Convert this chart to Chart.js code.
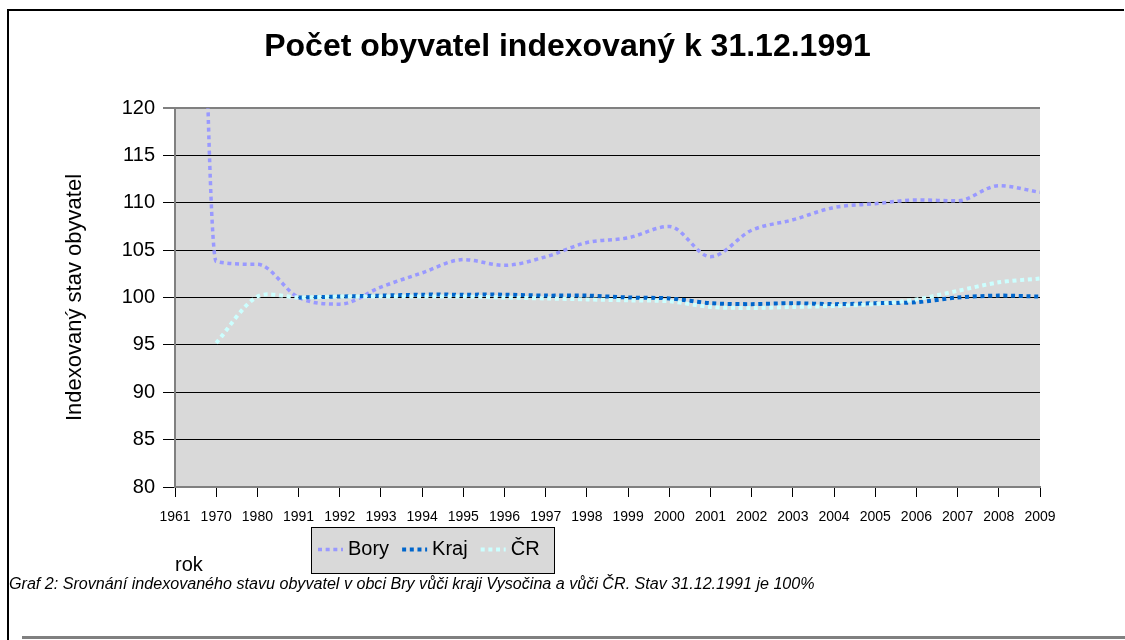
<!DOCTYPE html>
<html><head><meta charset="utf-8">
<script src="https://cdn.jsdelivr.net/npm/chart.js@4.4.1/dist/chart.umd.min.js"></script>
<style>html,body{margin:0;padding:0;background:#fff;}canvas{display:block;}</style>
</head><body>
<canvas id="c" width="1125" height="640"></canvas>
<script>
// ---- data ----
const years = ['1961','1970','1980','1991','1992','1993','1994','1995','1996','1997','1998','1999','2000','2001','2002','2003','2004','2005','2006','2007','2008','2009'];
const bory = [330, 103.8, 103.5, 100.0, 99.3, 101.1, 102.6, 104.0, 103.4, 104.3, 105.8, 106.3, 107.5, 104.3, 107.1, 108.2, 109.5, 109.9, 110.3, 110.2, 111.8, 111.1];
const kraj = [null, null, null, 100.0, 100.1, 100.2, 100.3, 100.3, 100.3, 100.2, 100.2, 100.0, 99.9, 99.4, 99.3, 99.4, 99.3, 99.4, 99.5, 100.0, 100.2, 100.1];
const cr   = [null, 95.2, 100.1, 100.0, 100.1, 100.1, 100.1, 100.1, 100.0, 99.9, 99.8, 99.7, 99.6, 99.0, 98.9, 99.0, 99.1, 99.3, 99.8, 100.7, 101.6, 102.0];
const yTicks = [80, 85, 90, 95, 100, 105, 110, 115, 120];
const seriesNames = ['Bory', 'Kraj', 'ČR'];
const chartTitle = 'Počet obyvatel indexovaný k 31.12.1991';
const yTitle = 'Indexovaný stav obyvatel';
const xTitle = 'rok';
const caption = 'Graf 2: Srovnání indexovaného stavu obyvatel v obci Bry vůči kraji Vysočina a vůči ČR. Stav 31.12.1991 je 100%';

// ---- styles ----
const FONT = "'Liberation Sans', Arial, Helvetica, sans-serif";
const colors = ['#9999ff', '#0066cc', '#ccffff'];
const widths = [3.5, 4, 4];
const modes = ['monotone', 'default', 'default'];
const DASH = [4, 3.67];

Chart.defaults.font.family = FONT;
Chart.defaults.color = '#000';

const bgPlugin = {
  id: 'plotBg',
  beforeDraw(chart) {
    const {ctx, chartArea: a} = chart;
    ctx.save();
    ctx.fillStyle = '#d9d9d9';
    ctx.fillRect(a.left, a.top, a.right - a.left, a.bottom - a.top);
    ctx.restore();
  }
};

const decorPlugin = {
  id: 'decor',
  afterDraw(chart) {
    const ctx = chart.ctx;
    ctx.save();
    // frame
    ctx.strokeStyle = '#000';
    ctx.lineWidth = 2;
    ctx.beginPath();
    ctx.moveTo(8, 640); ctx.lineTo(8, 10); ctx.lineTo(1124, 10);
    ctx.stroke();
    ctx.strokeStyle = '#808080';
    ctx.lineWidth = 3;
    ctx.beginPath();
    ctx.moveTo(22, 637.5); ctx.lineTo(1125, 637.5);
    ctx.stroke();

    // legend
    const lx = 311, ly = 527, lw = 243, lh = 46, cy = 549.5;
    ctx.fillStyle = '#d9d9d9';
    ctx.fillRect(lx, ly, lw, lh);
    ctx.strokeStyle = '#000';
    ctx.lineWidth = 1;
    ctx.strokeRect(lx + 0.5, ly + 0.5, lw, lh);
    ctx.font = '20px ' + FONT;
    ctx.textBaseline = 'middle';
    ctx.textAlign = 'left';
    let x = 318;
    chart.data.datasets.forEach((ds) => {
      ctx.strokeStyle = ds.borderColor;
      ctx.lineWidth = ds.borderWidth;
      ctx.setLineDash(ds.borderDash);
      ctx.lineCap = 'butt';
      ctx.beginPath();
      ctx.moveTo(x, cy); ctx.lineTo(x + 25, cy);
      ctx.stroke();
      ctx.setLineDash([]);
      ctx.fillStyle = '#000';
      ctx.fillText(ds.label, x + 30, cy);
      x += 30 + ctx.measureText(ds.label).width + 13;
    });

    // caption
    ctx.font = 'italic 100px ' + FONT;
    const w = ctx.measureText(caption).width;
    const size = 100 * 806 / w;
    ctx.font = 'italic ' + size.toFixed(2) + 'px ' + FONT;
    ctx.fillStyle = '#000';
    ctx.textBaseline = 'middle';
    ctx.fillText(caption, 9, 585);
    ctx.restore();
  }
};

function mkDs(i, data) {
  return {
    label: seriesNames[i],
    data: data,
    borderColor: colors[i],
    backgroundColor: colors[i],
    borderWidth: widths[i],
    borderDash: DASH,
    borderCapStyle: 'butt',
    borderJoinStyle: 'round',
    pointRadius: 0,
    pointHoverRadius: 0,
    fill: false,
    tension: 0.3,
    cubicInterpolationMode: modes[i],
    capBezierPoints: false,
    spanGaps: false,
    clip: 0,
    order: 3 - i
  };
}

new Chart(document.getElementById('c'), {
  type: 'line',
  data: {
    labels: years,
    datasets: [mkDs(0, bory), mkDs(1, kraj), mkDs(2, cr)]
  },
  options: {
    responsive: false,
    animation: false,
    devicePixelRatio: 1,
    events: [],
    layout: { padding: { left: 10, right: 0, top: 0, bottom: 0 } },
    plugins: {
      legend: { display: false },
      tooltip: { enabled: false },
      title: {
        display: true,
        text: chartTitle,
        color: '#000',
        font: { size: 32, weight: 'bold', family: FONT, lineHeight: 1.2 },
        padding: { top: 28, bottom: 41.6 }
      }
    },
    scales: {
      x: {
        type: 'category',
        offset: false,
        grid: { display: true, drawOnChartArea: false, drawTicks: true, tickLength: 10, color: '#000', lineWidth: 1 },
        border: { display: true, color: '#808080', width: 2 },
        ticks: { autoSkip: false, maxRotation: 0, minRotation: 0, padding: 12, color: '#000', font: { size: 14, family: FONT } },
        title: { display: true, text: xTitle, align: 'start', color: '#000', font: { size: 20, family: FONT, lineHeight: 1.2 }, padding: { top: 0, bottom: 63 } },
        afterFit(s) { s.height = 153; }
      },
      y: {
        position: 'left',
        min: yTicks[0],
        max: yTicks[yTicks.length - 1],
        ticks: { stepSize: yTicks[1] - yTicks[0], padding: 8, color: '#000', font: { size: 20, family: FONT } },
        grid: {
          drawTicks: true, tickLength: 12,
          color: (c) => (c.tick && c.tick.value === yTicks[yTicks.length - 1]) ? '#808080' : '#000',
          lineWidth: (c) => (c.tick && c.tick.value === yTicks[yTicks.length - 1]) ? 2 : 1
        },
        border: { display: true, color: '#808080', width: 2 },
        title: { display: true, text: yTitle, color: '#000', font: { size: 22, family: FONT, lineHeight: 1.2 }, padding: { top: 52, bottom: 0 } },
        afterFit(s) { s.width = 165; }
      },
      y2: {
        position: 'right',
        display: true,
        min: yTicks[0],
        max: yTicks[yTicks.length - 1],
        grid: { display: false, drawTicks: false },
        border: { display: false },
        ticks: { display: false },
        afterFit(s) { s.width = 85; }
      }
    }
  },
  plugins: [bgPlugin, decorPlugin]
});
</script>
</body></html>
